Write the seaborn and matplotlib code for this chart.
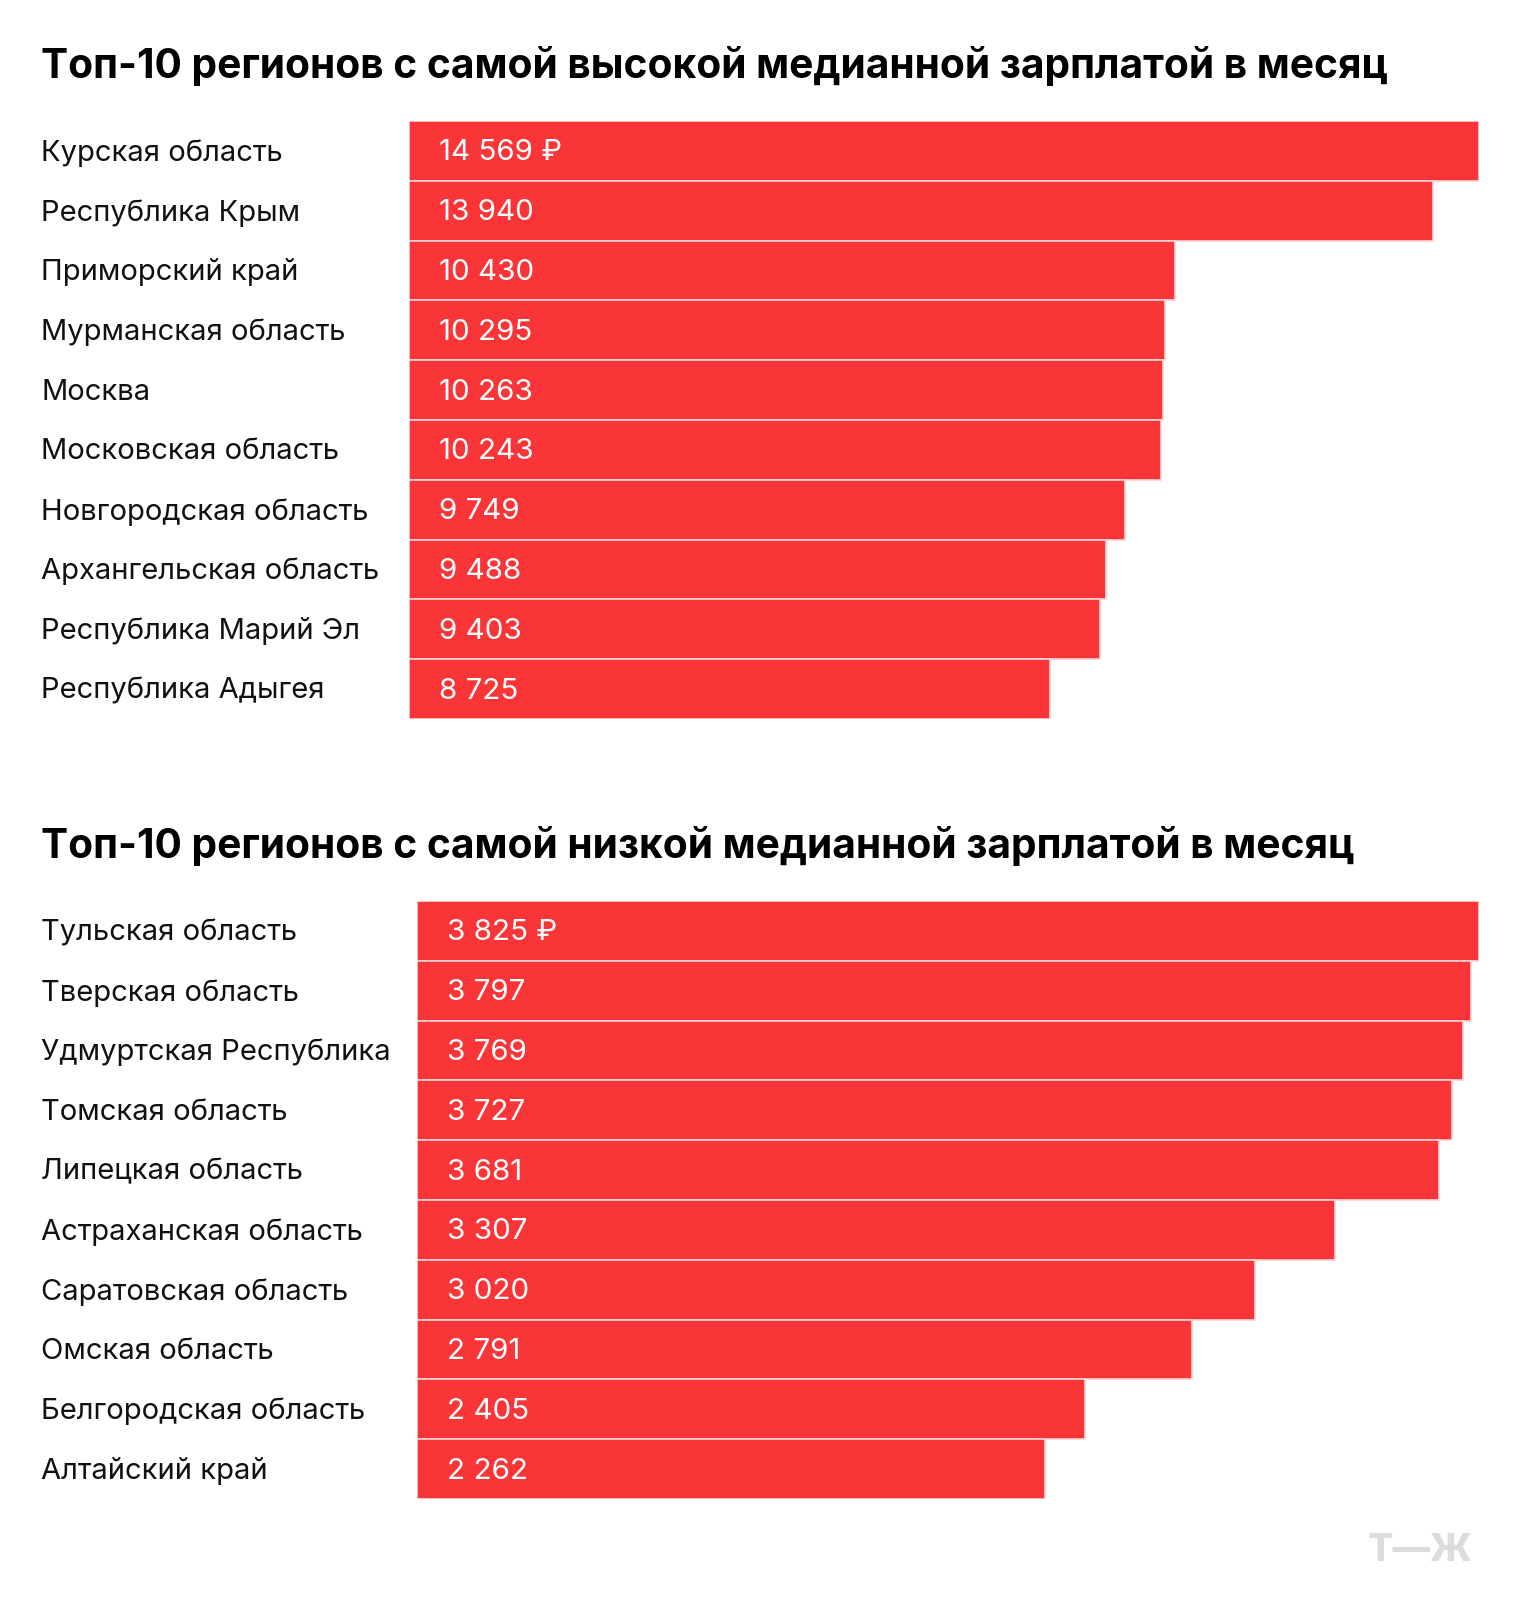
import matplotlib
matplotlib.use("Agg")
import matplotlib.pyplot as plt
import matplotlib.transforms as mtransforms
import seaborn as sns
import pandas as pd

# Data
high_regions = [
    "Курская область", "Республика Крым", "Приморский край", "Мурманская область",
    "Москва", "Московская область", "Новгородская область", "Архангельская область",
    "Республика Марий Эл", "Республика Адыгея",
]
high_values = [14569, 13940, 10430, 10295, 10263, 10243, 9749, 9488, 9403, 8725]

low_regions = [
    "Тульская область", "Тверская область", "Удмуртская Республика", "Томская область",
    "Липецкая область", "Астраханская область", "Саратовская область", "Омская область",
    "Белгородская область", "Алтайский край",
]
low_values = [3825, 3797, 3769, 3727, 3681, 3307, 3020, 2791, 2405, 2262]

titles = [
    "Топ-10 регионов с самой высокой медианной зарплатой в месяц",
    "Топ-10 регионов с самой низкой медианной зарплатой в месяц",
]

BAR = "#F93537"
FONT = ["Inter", "DejaVu Sans"]

sns.set_theme(style="white")
plt.rcParams["font.family"] = FONT

W, H = 1520, 1620
fig = plt.figure(figsize=(W / 100, H / 100), dpi=100)


def fmt(v):
    return f"{v:,}".replace(",", " ")


def draw(regions, values, title, left_px, top_px, bottom_px, title_y_px):
    ax = fig.add_axes([left_px / W, 1 - bottom_px / H, (1479 - left_px) / W,
                       (bottom_px - top_px) / H])
    df = pd.DataFrame({"region": regions, "value": values})
    sns.barplot(data=df, x="value", y="region", orient="h", color=BAR,
                saturation=1, width=1.0, edgecolor="#FBD3D3", linewidth=1.2, ax=ax)
    ax.set_xlim(0, max(values))
    ax.set_ylim(len(values) - 0.5, -0.5)
    ax.set_axis_off()

    down = mtransforms.ScaledTranslation(0, -2 / 100, fig.dpi_scale_trans)
    lab_tr = mtransforms.blended_transform_factory(fig.transFigure, ax.transData) + down
    val_tr = ax.transData + mtransforms.ScaledTranslation(30 / 100, -2 / 100,
                                                          fig.dpi_scale_trans)
    for i, (r, v) in enumerate(zip(regions, values)):
        ax.text(41 / W, i, r, transform=lab_tr, ha="left", va="center",
                fontsize=21, color="#111111")
        s = fmt(v) + (" ₽" if i == 0 else "")
        ax.text(0, i, s, transform=val_tr, ha="left", va="center",
                fontsize=21.3, color="white")

    fig.text(41 / W, 1 - title_y_px / H, title, ha="left", va="center",
             fontsize=29.3, fontweight="bold", color="black")
    return ax


draw(high_regions, high_values, titles[0], 409, 121, 719, 66)
draw(low_regions, low_values, titles[1], 417, 901, 1499, 846)

# logo
fig.text(1420 / W, 1 - 1551 / H, "Т—Ж", ha="center", va="center",
         fontsize=27, fontweight="heavy", color="#DCDCDC")

fig.savefig("out.png", dpi=100, facecolor="white")
